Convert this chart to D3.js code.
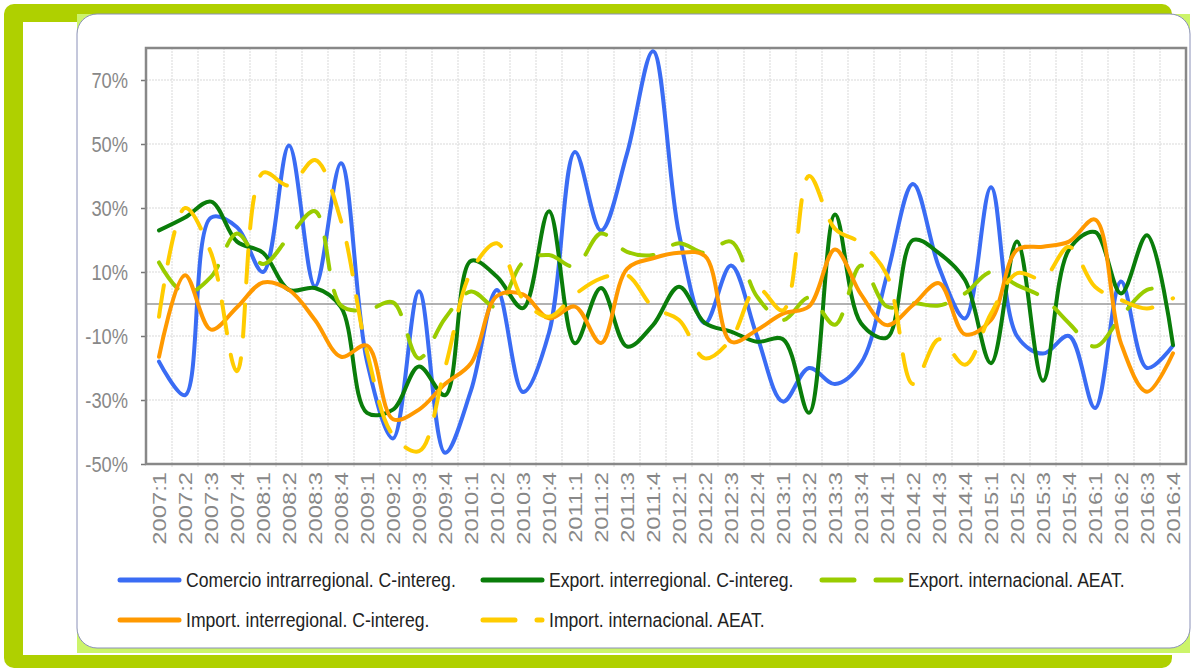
<!DOCTYPE html>
<html><head><meta charset="utf-8">
<script src="https://cdn.jsdelivr.net/npm/d3@7"></script>
<style>body{margin:0;background:#fff}svg{display:block}</style>
</head><body><svg id="c" width="1194" height="669"></svg>
<script>
const categories = ["2007:1","2007:2","2007:3","2007:4","2008:1","2008:2","2008:3","2008:4",
"2009:1","2009:2","2009:3","2009:4","2010:1","2010:2","2010:3","2010:4",
"2011:1","2011:2","2011:3","2011:4","2012:1","2012:2","2012:3","2012:4",
"2013:1","2013:2","2013:3","2013:4","2014:1","2014:2","2014:3","2014:4",
"2015:1","2015:2","2015:3","2015:4","2016:1","2016:2","2016:3","2016:4"];
const comercioIntra = [-18, -28.5, 27, 24, 10, 49.5, 5.5, 44, -18, -42, 4, -46.5, -27, 4.4, -27.5, -9, 47.5, 23, 47, 79, 22, -6, 12, -10, -30.5, -20, -25, -18.5, 9, 37.5, 11.5, -4.5, 36.5, -10, -15.5, -10, -32.5, 7, -20, -13];
const exportInter = [23, 27, 32, 19.5, 16, 4.4, 5, -1, -34, -33, -19.5, -28.5, 13.5, 8.5, -1.3, 29, -12.3, 5, -13.3, -6.6, 5.4, -6, -8.6, -11.8, -11, -34, 28, -6, -10.5, 20, 15.9, 7.5, -18.5, 19.5, -24, 17, 22.5, 3.3, 21.5, -12.8];
const exportIntl = [13, 3.3, 8.5, 22, 12.5, 21, 29, -0.5, -1.9, 0.5, -17, -4.5, 3.9, -1, 13, 15.3, 11.7, 22, 16.3, 15.3, 19, 16, 19.5, 2.3, -5, 2, -6.5, 12, -0.8, 0.2, -0.5, 3.3, 10, 5.9, 2, -6, -13.3, -4, 4.4, 4.7];
const importInter = [-16.5, 9, -8, -1, 6.7, 4.4, -5, -16.5, -13, -36, -33, -25, -18.5, 2.5, 3, -4.5, -0.8, -12.2, 11, 14.3, 16, 15, -11.8, -8.1, -3, -0.8, 17, 3, -6.6, -0.3, 6.5, -9.5, -5, 16.9, 17.9, 19.5, 26.4, -12.3, -27.4, -15.4];
const importIntl = [-4, 30, 16, -21, 41, 37, 45, 26, -15, -41, -46, -20, 10, 19, 1.5, -4, 3, 8, 9, -1, -5, -17, -11, 5, -2, 40, 23.5, 19, 9, -25, -11, -19, -3, 9.6, 8, 17.9, 5.4, 1.25, -1.4, 1.8];
const yTicks = [-50, -30, -10, 10, 30, 50, 70];
const seriesNames = ["Comercio intrarregional. C-intereg.", "Export. interregional. C-intereg.", "Export. internacional. AEAT.", "Import. interregional. C-intereg.", "Import. internacional. AEAT."];
const seriesColors = ["#3a6cf4", "#0a7d0a", "#99cc00", "#ff9900", "#ffcc00"];
const seriesDashed = [false, false, true, false, true];
const seriesValues = [comercioIntra, exportInter, exportIntl, importInter, importIntl];

const svg = d3.select('#c');
const FONT = "'Liberation Sans', Arial, sans-serif";

// decorative frame
svg.append('rect').attr('x',4).attr('y',4).attr('width',1168).attr('height',664).attr('rx',10).attr('fill','#afd000');
svg.append('rect').attr('x',23).attr('y',22).attr('width',1149).attr('height',633).attr('fill','#fff');
svg.append('rect').attr('x',77).attr('y',14).attr('width',1113).attr('height',639).attr('fill','#ccf46a');
svg.append('rect').attr('x',77).attr('y',14).attr('width',1113).attr('height',634).attr('rx',20)
  .attr('fill','#fff').attr('stroke','#8a90b8').attr('stroke-width',1);

const L = 146, R = 1186, T = 48, B = 464;
const x = d3.scaleBand().domain(categories).range([L, R]);
const y = d3.scaleLinear().domain([-50, 80]).range([B, T]);
const cx = c => x(c) + x.bandwidth() / 2;

// grid
const grid = svg.append('g');
grid.selectAll('line.v').data(categories.slice(1)).join('line')
  .attr('x1', d => x(d)).attr('x2', d => x(d)).attr('y1', T).attr('y2', B + 4)
  .attr('stroke', '#d9d9d9').attr('stroke-width', 1).attr('stroke-dasharray', '2,1');
grid.selectAll('line.h').data(yTicks).join('line')
  .attr('x1', L).attr('x2', R).attr('y1', d => y(d)).attr('y2', d => y(d))
  .attr('stroke', '#d9d9d9').attr('stroke-width', 1).attr('stroke-dasharray', '2,1');
svg.append('line').attr('x1', L).attr('x2', R).attr('y1', y(0)).attr('y2', y(0))
  .attr('stroke', '#999').attr('stroke-width', 1.5);

// y axis
const yAxis = svg.append('g').attr('transform', `translate(${L},0)`)
  .call(d3.axisLeft(y).tickValues(yTicks).tickFormat(d => d + '%').tickSize(5).tickPadding(0));
yAxis.select('.domain').remove();
yAxis.selectAll('.tick line').attr('stroke', '#777').attr('stroke-width', 1.5);
yAxis.selectAll('.tick text').attr('x', -18).attr('dy', '0.36em')
  .attr('transform', 'scale(1,1.17)').attr('fill', '#888')
  .style('font-family', FONT).style('font-size', '18.3px');

// x axis
const xAxis = svg.append('g').attr('transform', `translate(0,${B})`)
  .call(d3.axisBottom(x).tickSize(0).tickPadding(0));
xAxis.select('.domain').remove();
xAxis.selectAll('.tick text').attr('x', 0).attr('y', 0).attr('dy', '0.36em')
  .attr('text-anchor', 'end')
  .attr('transform', 'translate(0,8) scale(1,1.25) rotate(-90)')
  .attr('fill', '#888').style('font-family', FONT).style('font-size', '19px');

// plot frame
svg.append('rect').attr('x', L).attr('y', T).attr('width', R - L).attr('height', B - T)
  .attr('fill', 'none').attr('stroke', '#888').attr('stroke-width', 2.5);

// series
const line = d3.line().x((d, i) => cx(categories[i])).y(d => y(d)).curve(d3.curveCatmullRom.alpha(0.5));
const plot = svg.append('g');
seriesValues.forEach((vals, k) => {
  plot.append('path').datum(vals).attr('d', line)
    .attr('fill', 'none').attr('stroke', seriesColors[k]).attr('stroke-width', 4)
    .attr('stroke-linecap', 'round').attr('stroke-linejoin', 'round')
    .attr('stroke-dasharray', seriesDashed[k] ? '32,22' : null);
});

// legend
const legCols = [118, 481, 820];
const legRows = [580, 620];
const legLens = [63, 63, 83, 63, 63];
seriesNames.forEach((name, k) => {
  const col = k % 3, row = Math.floor(k / 3);
  const lx = legCols[col], ly = legRows[row];
  const g = svg.append('g');
  g.append('line').attr('x1', lx + 2).attr('x2', lx + legLens[k] - 2).attr('y1', ly).attr('y2', ly)
    .attr('stroke', seriesColors[k]).attr('stroke-width', 5).attr('stroke-linecap', 'round')
    .attr('stroke-dasharray', seriesDashed[k] ? '32,22' : null);
  g.append('text').attr('transform', `translate(${lx + legLens[k] + 5},${ly}) scale(1,1.15)`)
    .attr('dy', '0.36em').attr('fill', '#222')
    .style('font-family', FONT).style('font-size', '17.6px').text(name);
});
</script></body></html>
